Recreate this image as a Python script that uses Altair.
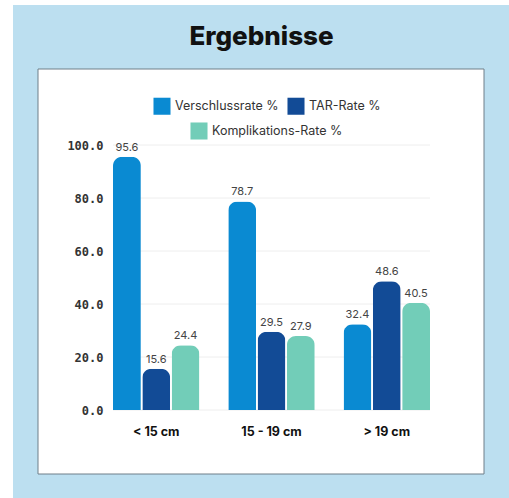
import altair as alt
import pandas as pd

# Categories, series and values
categories = ["< 15 cm", "15 - 19 cm", "> 19 cm"]
series = ["Verschlussrate %", "TAR-Rate %", "Komplikations-Rate %"]
verschluss = [95.6, 78.7, 32.4]
tar_rate = [15.6, 29.5, 48.6]
komplikation = [24.4, 27.9, 40.5]
y_ticks = [0, 20, 40, 60, 80, 100]

colors = ["#0a8ad2", "#124b96", "#72cdb8"]
BLUE_BG = "#bcdff0"

rows = []
for s, vals in zip(series, [verschluss, tar_rate, komplikation]):
    for c, v in zip(categories, vals):
        rows.append({"cat": c, "series": s, "value": v})
df = pd.DataFrame(rows)
grid_df = pd.DataFrame({"value": y_ticks})

W, H = 317, 265
PAD = {"left": 113, "top": 145, "right": 79, "bottom": 88}

x_enc = alt.X(
    "cat:N",
    sort=categories,
    scale=alt.Scale(paddingInner=0.25, paddingOuter=0),
    axis=alt.Axis(
        title=None, labelAngle=0, domain=False, ticks=False, grid=False,
        labelFont="Inter", labelFontWeight="bold", labelFontSize=12.5,
        labelColor="#111111", labelPadding=15, zindex=1,
    ),
)
xoff_enc = alt.XOffset("series:N", sort=series,
                       scale=alt.Scale(domain=series, paddingInner=0.05))
y_enc = alt.Y(
    "value:Q",
    scale=alt.Scale(domain=[0, 100]),
    axis=alt.Axis(
        title=None, values=y_ticks, format=".1f", domain=False, ticks=False,
        grid=False, labelFont="DejaVu Sans Mono", labelFontWeight="bold",
        labelFontSize=12, labelColor="#333333", labelPadding=10, zindex=1,
    ),
)

one = alt.Data(values=[{}])

# page background and white card
background = alt.Chart(one).mark_rect(color=BLUE_BG).encode(
    x=alt.value(-100), x2=alt.value(396), y=alt.value(-140), y2=alt.value(353)
)
card = alt.Chart(one).mark_rect(fill="white", stroke="#6e7f89", strokeWidth=1).encode(
    x=alt.value(-75), x2=alt.value(371), y=alt.value(-76), y2=alt.value(329)
)

gridlines = alt.Chart(grid_df).mark_rule(color="#eeeeee", strokeWidth=1).encode(
    y=alt.Y("value:Q"), x=alt.value(0), x2=alt.value(W)
)

legend_common = dict(
    title=None, orient="none", direction="horizontal", symbolType="square",
    symbolSize=290, symbolStrokeWidth=0, labelFont="Inter", labelFontSize=12.5,
    labelColor="#333333", labelOffset=4, columnPadding=8, symbolOpacity=1,
)

bars_main = alt.Chart(df).transform_filter(
    alt.FieldOneOfPredicate(field="series", oneOf=series[:2])
).mark_bar(cornerRadiusTopLeft=9, cornerRadiusTopRight=9).encode(
    x=x_enc, xOffset=xoff_enc, y=y_enc,
    color=alt.Color(
        "series:N",
        scale=alt.Scale(domain=series[:2], range=colors[:2]),
        legend=alt.Legend(legendX=40, legendY=-48, **legend_common),
    ),
)

bars_komp = alt.Chart(df).transform_filter(
    alt.FieldEqualPredicate(field="series", equal=series[2])
).mark_bar(cornerRadiusTopLeft=9, cornerRadiusTopRight=9).encode(
    x=x_enc, xOffset=xoff_enc, y=y_enc,
    fill=alt.Fill(
        "series:N",
        scale=alt.Scale(domain=series[2:], range=colors[2:]),
        legend=alt.Legend(legendX=77, legendY=-23, **legend_common),
    ),
)

labels = alt.Chart(df).mark_text(
    dy=-4, fontSize=11, font="Inter", color="#444444", baseline="bottom"
).encode(
    x=x_enc, xOffset=xoff_enc, y=y_enc,
    text=alt.Text("value:Q", format=".1f"),
)

chart = alt.layer(
    background, card, gridlines, bars_main, bars_komp, labels
).properties(
    width=W, height=H, padding=PAD, autosize="none", background="white",
    title=alt.TitleParams(
        "Ergebnisse", font="Inter", fontSize=26, fontWeight=800, color="#111111",
        anchor="middle", dx=-10, offset=-66, baseline="alphabetic",
    ),
).configure_view(strokeWidth=0)

chart.save("out.html", embed_options={"renderer": "svg", "actions": False})
